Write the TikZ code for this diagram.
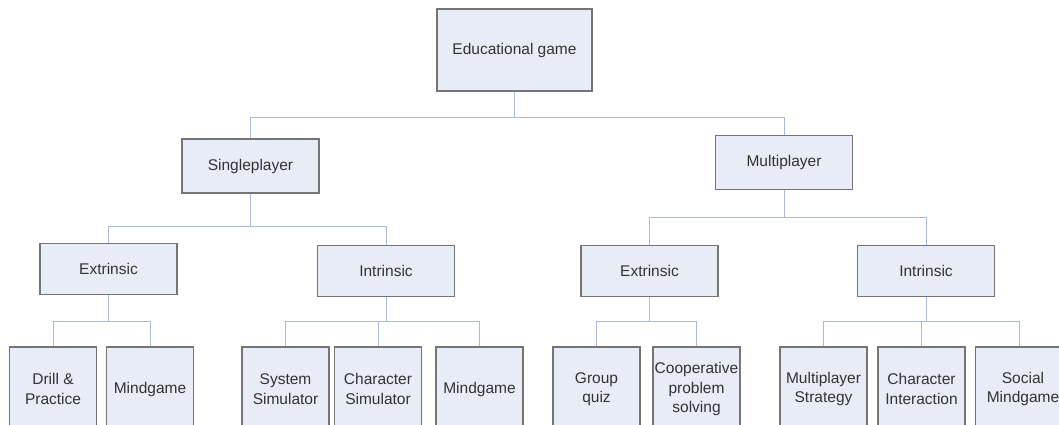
\documentclass[tikz,border=0pt]{standalone}
\usepackage{fontspec}
\setmainfont{Liberation Sans}
\definecolor{boxfill}{HTML}{E8ECF7}
\definecolor{boxline}{HTML}{757575}
\definecolor{linkline}{HTML}{A8BAD6}
\definecolor{txtcol}{HTML}{333333}
\begin{document}
\begin{tikzpicture}[x=1pt, y=-1pt,
    box/.style={rectangle, fill=boxfill, draw=boxline, line width=1.2pt, text=txtcol,
        font=\fontsize{15.5}{19.5}\selectfont, align=center, inner sep=0pt},
    topbox/.style={box, minimum width=155pt, minimum height=82pt},
    midbox/.style={box, minimum width=137pt, minimum height=54pt},
    leaf/.style={box, minimum width=87pt, minimum height=84pt},
    link/.style={draw=linkline, line width=1pt}]

% Page and clipping (leaves run off the bottom)
\fill[white] (0,0) rectangle (1059,425);
\clip (0,0) rectangle (1059,425);

% Root
\node[topbox] (root) at (514.5,50) {Educational game};

% Player modes
\node[midbox] (sp) at (250.5,166) {Singleplayer};
\node[midbox] (mp) at (784,162.5) {Multiplayer};

% Motivation types
\node[midbox, minimum height=51pt] (sext) at (108.5,269) {Extrinsic};
\node[midbox, minimum height=51pt] (sint) at (386,271) {Intrinsic};
\node[midbox, minimum height=51pt] (mext) at (649.5,271) {Extrinsic};
\node[midbox, minimum height=51pt] (mint) at (926,271) {Intrinsic};

% The leaves, all on one row
\foreach \name/\xpos/\txt in {drill/53/{Drill \&\\Practice}, smind/150/Mindgame,
    sysim/285.5/{System\\Simulator}, chsim/378/{Character\\Simulator}, imind/479.5/Mindgame,
    gquiz/596.5/{Group\\quiz}, coop/696.5/{Cooperative\\problem\\solving},
    mstrat/823.5/{Multiplayer\\Strategy}, chint/921.5/{Character\\Interaction}} {
    \node[leaf] (\name) at (\xpos,389) {\txt};
}
% last one runs off the right edge
\node[leaf, minimum width=95pt] (social) at (1023,389) {Social\\Mindgame};

% Connectors
\draw[link] (root.south) -- (root.south |- 0,118);
\draw[link] (sp.north) -- (sp.north |- 0,118) -| (mp.north);

\draw[link] (sp.south) -- (sp.south |- 0,226);
\draw[link] (sext.north) -- (sext.north |- 0,226) -| (sint.north);
\draw[link] (mp.south) -- (mp.south |- 0,217);
\draw[link] (mext.north) -- (mext.north |- 0,217) -| (mint.north);

% and down to the leaves
\foreach \parent/\leafs in {sext/{drill,smind}, sint/{sysim,chsim,imind},
    mext/{gquiz,coop}, mint/{mstrat,chint}} {
    \draw[link] (\parent.south) -- (\parent.south |- 0,321);
    \foreach \l in \leafs {
        \draw[link] (\parent.south |- 0,321) -| (\l.north);
    }
}
\draw[link] (mint.south |- 0,321) -| (social.north -| 1019.5,0);
\end{tikzpicture}
\end{document}
